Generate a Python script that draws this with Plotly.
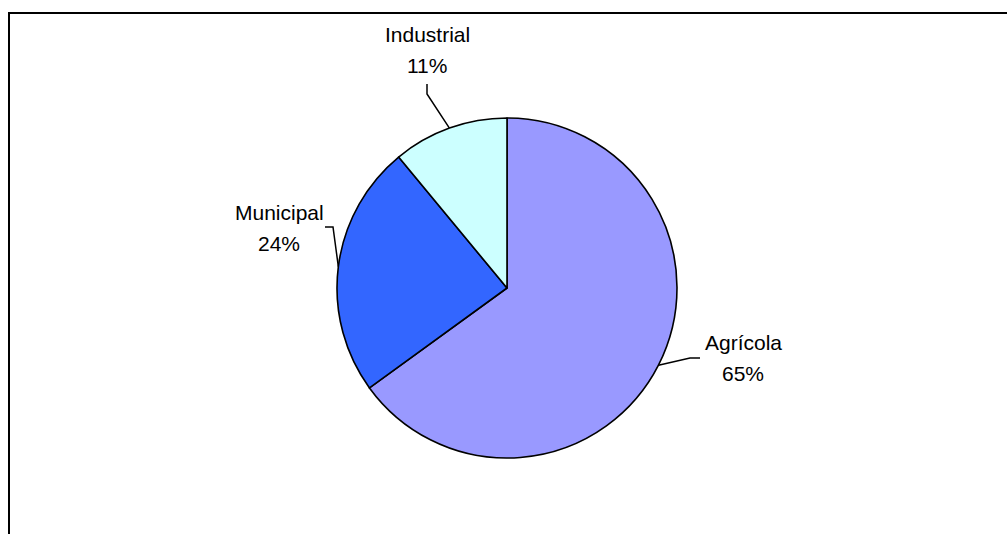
import math
import plotly.graph_objects as go

# ---- data ----
labels = ["Agrícola", "Municipal", "Industrial"]
values = [65, 24, 11]
colors = ["#9999FF", "#3366FF", "#CCFFFF"]

# ---- layout constants (pixels, in the browser window) ----
W, H = 1007, 534
CX, CY, R = 507, 288, 170
FONT = "Liberation Sans, Arial, sans-serif"
FS = 21
LINE_GAP = 31
label_pos = {
    "Agrícola": (743, 342),
    "Municipal": (279, 212),
    "Industrial": (427, 34),
}
leader_start = {
    "Agrícola": [(700, 358), (690, 358)],
    "Municipal": [(325, 227), (333, 227)],
    "Industrial": [(427, 84), (427, 94)],
}

fig = go.Figure()
fig.add_trace(go.Pie(
    labels=labels, values=values, sort=False, direction="clockwise", rotation=0,
    marker=dict(colors=colors, line=dict(color="black", width=1.6)),
    textinfo="none", hoverinfo="skip", showlegend=False,
    domain=dict(x=[(CX - R) / W, (CX + R) / W],
                y=[(H - CY - R) / H, (H - CY + R) / H]),
))

total = sum(values)
cum = 0
for lab, v in zip(labels, values):
    mid = (cum + v / 2) / total * 2 * math.pi
    cum += v
    ex = CX + R * math.sin(mid)
    ey = CY - R * math.cos(mid)
    pts = leader_start[lab] + [(ex, ey)]
    fig.add_trace(go.Scatter(
        x=[p[0] for p in pts], y=[p[1] for p in pts], mode="lines",
        line=dict(color="black", width=1.5), hoverinfo="skip", showlegend=False,
    ))
    pct = round(v / total * 100)
    lx, ly = label_pos[lab]
    fig.add_annotation(x=lx, y=ly, text=lab, showarrow=False, xref="x", yref="y",
                       font=dict(family=FONT, size=FS, color="black"))
    fig.add_annotation(x=lx, y=ly + LINE_GAP, text=f"{pct}%", showarrow=False,
                       xref="x", yref="y", font=dict(family=FONT, size=FS, color="black"))

fig.add_shape(type="rect", xref="x", yref="y", x0=9, y0=13, x1=W + 20, y1=H + 20,
              line=dict(color="black", width=2), fillcolor="rgba(0,0,0,0)", layer="above")

fig.update_layout(
    width=W, height=H, margin=dict(l=0, r=0, t=0, b=0),
    paper_bgcolor="white", plot_bgcolor="rgba(0,0,0,0)",
    xaxis=dict(range=[0, W], visible=False, fixedrange=True),
    yaxis=dict(range=[H, 0], visible=False, fixedrange=True),
)
fig.write_html(
    "out.html",
    config={"displayModeBar": False, "staticPlot": True},
    post_script="document.body.style.margin='0';document.body.style.overflow='hidden';",
)
